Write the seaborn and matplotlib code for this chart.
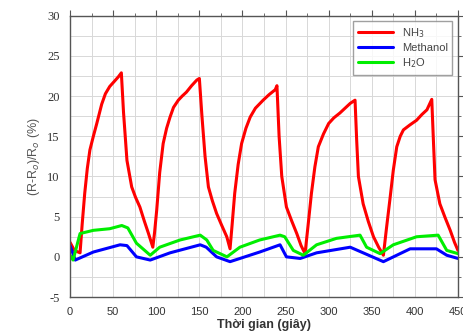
import numpy as np
import pandas as pd
import matplotlib
matplotlib.use("Agg")
import matplotlib.pyplot as plt
import seaborn as sns

nh3_t = [0, 5, 11.6, 14, 17, 20, 23, 27, 31, 36.7, 41, 46, 51, 56, 59.5,
         62, 66, 71.5, 76, 81, 86, 91, 96,
         98, 100.5, 104, 108, 112, 116, 120, 125.6, 130, 135, 141, 147, 150,
         153, 156.6, 160.5, 165, 170, 176, 181.8, 185.6,
         188, 191, 195, 199, 204, 209, 215, 224, 231, 238, 240,
         242.5, 245.6, 251, 257, 263, 268, 272.6,
         276, 280, 284, 288, 294, 300, 306, 313, 319, 325, 330.6,
         332.5, 334.5, 340, 346, 352, 358, 363.5,
         367, 371, 375, 379, 383, 386.7, 394, 402, 408, 414, 419.6,
         421.5, 423.4, 429, 435, 441, 446, 450]
nh3_v = [1.8, 0.8, 0.5, 4.0, 7.9, 11.0, 13.3, 15.0, 16.6, 19.0, 20.3, 21.2, 21.8, 22.4, 22.9,
         18.0, 12.0, 8.7, 7.4, 6.2, 4.5, 2.9, 1.2,
         3.0, 5.8, 10.5, 14.1, 16.0, 17.4, 18.6, 19.5, 20.0, 20.5, 21.3, 22.0, 22.2,
         17.5, 12.5, 8.7, 7.0, 5.4, 3.9, 2.5, 1.0,
         4.0, 7.9, 11.5, 14.1, 16.0, 17.4, 18.5, 19.5, 20.2, 20.8, 21.3,
         15.0, 10.0, 6.2, 4.5, 2.9, 1.4, 0.4,
         3.8, 7.9, 11.2, 13.7, 15.3, 16.6, 17.3, 17.9, 18.5, 19.1, 19.5,
         14.5, 10.0, 6.6, 4.4, 2.5, 1.2, 0.2,
         3.5, 7.1, 10.8, 13.7, 15.0, 15.8, 16.4, 17.0, 17.7, 18.3, 19.6,
         14.5, 9.6, 6.6, 4.9, 3.3, 1.8, 0.8]

h2o_t = [0, 3.5, 11.6, 27, 46, 60, 67, 77, 93, 104, 127.6, 151, 158.6, 166, 182,
         197, 220, 243.6, 249, 259, 270.6, 286, 309, 336.4, 344, 359.6, 375,
         402, 427, 437, 450]
h2o_v = [0.2, -0.4, 2.9, 3.3, 3.5, 3.9, 3.6, 1.7, 0.2, 1.2, 2.1, 2.7, 2.1, 0.8, 0.0,
         1.2, 2.1, 2.7, 2.5, 0.8, 0.2, 1.5, 2.3, 2.7, 1.2, 0.4, 1.5,
         2.5, 2.7, 0.8, 0.4]

meoh_t = [0, 6, 27, 58, 66, 77, 93, 116, 151, 158, 170, 185.6, 220,
          243.6, 251, 267, 286, 325, 340, 363.5, 379, 394.5, 425, 437, 450]
meoh_v = [1.4, -0.4, 0.6, 1.5, 1.4, 0.0, -0.4, 0.5, 1.5, 1.2, 0.0, -0.6, 0.6,
          1.5, 0.0, -0.2, 0.5, 1.2, 0.5, -0.6, 0.2, 1.0, 1.0, 0.2, -0.2]

series_names = ["NH$_3$", "Methanol", "H$_2$O"]
colors = ["#ff0000", "#0000ff", "#00ee00"]

df = pd.concat([
    pd.DataFrame({"t": nh3_t, "v": nh3_v, "s": series_names[0]}),
    pd.DataFrame({"t": meoh_t, "v": meoh_v, "s": series_names[1]}),
    pd.DataFrame({"t": h2o_t, "v": h2o_v, "s": series_names[2]}),
])

sns.set_style("white")
plt.rcParams["axes.unicode_minus"] = False
fig = plt.figure(figsize=(4.64, 3.36), dpi=100)
ax = fig.add_axes([0.151, 0.116, 0.836, 0.837])

sns.lineplot(data=df, x="t", y="v", hue="s", palette=dict(zip(series_names, colors)),
             linewidth=2.2, ax=ax, sort=False, estimator=None)

ax.set_xlim(0, 450)
ax.set_ylim(-5, 30)
ax.set_xticks(np.arange(0, 451, 50))
ax.set_yticks(np.arange(-5, 31, 5))
ax.set_xticks(np.arange(0, 451, 25), minor=True)
ax.set_yticks(np.arange(-5, 31, 2.5), minor=True)
ax.grid(True, which="both", color="#d8d8d8", linewidth=0.7)
ax.set_axisbelow(True)

for sp in ax.spines.values():
    sp.set_color("#555555")
    sp.set_linewidth(1.0)

ax.tick_params(which="both", direction="out", colors="#555555", labelcolor="#333333")
ax.tick_params(which="major", length=4)
ax.tick_params(which="minor", length=2)
ax.tick_params(which="both", top=True, right=True)

for lab in ax.get_yticklabels():
    lab.set_fontfamily("Liberation Serif")
    lab.set_fontsize(9)
for lab in ax.get_xticklabels():
    lab.set_fontfamily("Liberation Sans")
    lab.set_fontsize(8)

ax.set_xlabel("Thời gian (giây)", fontsize=9, fontweight="bold", family="Liberation Sans",
              color="#333333", labelpad=1)
ax.set_ylabel("(R-R$_o$)/R$_o$ (%)", fontsize=9, family="Liberation Sans",
              color="#555555", labelpad=4)

leg = ax.legend(loc="upper right", frameon=True, fancybox=False,
                handlelength=3.2, borderpad=0.4, labelspacing=0.3,
                prop={"family": "Liberation Sans", "size": 8})
leg.get_frame().set_edgecolor("#888888")
leg.get_frame().set_linewidth(1.0)
for t in leg.get_texts():
    t.set_color("#444444")

fig.savefig("out.png", dpi=100)
